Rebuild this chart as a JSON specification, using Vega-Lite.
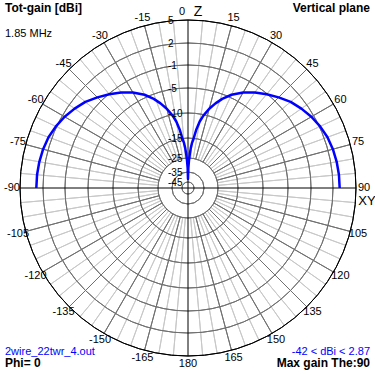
{
  "$schema": "https://vega.github.io/schema/vega-lite/v6.json",
  "width": 376,
  "height": 376,
  "padding": 0,
  "autosize": {"type": "none"},
  "background": "white",
  "config": {"view": {"stroke": null}, "text": {"font": "Liberation Sans", "fontSize": 11, "color": "black"}},
  "datasets": {
    "spokes": [
      {"angle": 0}, {"angle": 5}, {"angle": 10}, {"angle": 15}, {"angle": 20}, {"angle": 25}, {"angle": 30}, {"angle": 35}, {"angle": 40}, {"angle": 45}, {"angle": 50}, {"angle": 55},
      {"angle": 60}, {"angle": 65}, {"angle": 70}, {"angle": 75}, {"angle": 80}, {"angle": 85}, {"angle": 90}, {"angle": 95}, {"angle": 100}, {"angle": 105}, {"angle": 110}, {"angle": 115},
      {"angle": 120}, {"angle": 125}, {"angle": 130}, {"angle": 135}, {"angle": 140}, {"angle": 145}, {"angle": 150}, {"angle": 155}, {"angle": 160}, {"angle": 165}, {"angle": 170}, {"angle": 175},
      {"angle": 180}, {"angle": 185}, {"angle": 190}, {"angle": 195}, {"angle": 200}, {"angle": 205}, {"angle": 210}, {"angle": 215}, {"angle": 220}, {"angle": 225}, {"angle": 230}, {"angle": 235},
      {"angle": 240}, {"angle": 245}, {"angle": 250}, {"angle": 255}, {"angle": 260}, {"angle": 265}, {"angle": 270}, {"angle": 275}, {"angle": 280}, {"angle": 285}, {"angle": 290}, {"angle": 295},
      {"angle": 300}, {"angle": 305}, {"angle": 310}, {"angle": 315}, {"angle": 320}, {"angle": 325}, {"angle": 330}, {"angle": 335}, {"angle": 340}, {"angle": 345}, {"angle": 350}, {"angle": 355}
    ],
    "rings": [
      {"db": -45, "t": "-45"}, {"db": -35, "t": "-35"}, {"db": -25, "t": "-25"}, {"db": -15, "t": "-15"}, {"db": -10, "t": "-10"},
      {"db": -5, "t": "-5"}, {"db": -1, "t": "-1"}, {"db": 2, "t": "2"}, {"db": 5, "t": "5"}
    ],
    "alab": [
      {"a": -165, "t": "-165"}, {"a": -150, "t": "-150"}, {"a": -135, "t": "-135"}, {"a": -120, "t": "-120"}, {"a": -105, "t": "-105"},
      {"a": -90, "t": "-90"}, {"a": -75, "t": "-75"}, {"a": -60, "t": "-60"}, {"a": -45, "t": "-45"}, {"a": -30, "t": "-30"}, {"a": -15, "t": "-15"},
      {"a": 15, "t": "15"}, {"a": 30, "t": "30"}, {"a": 45, "t": "45"}, {"a": 60, "t": "60"}, {"a": 75, "t": "75"}, {"a": 90, "t": "90"},
      {"a": 105, "t": "105"}, {"a": 120, "t": "120"}, {"a": 135, "t": "135"}, {"a": 150, "t": "150"}, {"a": 165, "t": "165"}, {"a": 180, "t": "180"}
    ],
    "pattern": [
      {"angle": -90, "gain": 2.87}, {"angle": -85, "gain": 2.85}, {"angle": -80, "gain": 2.78}, {"angle": -75, "gain": 2.65}, {"angle": -70, "gain": 2.45},
      {"angle": -65, "gain": 2.1}, {"angle": -60, "gain": 1.65}, {"angle": -55, "gain": 1.1}, {"angle": -50, "gain": 0.5}, {"angle": -45, "gain": -0.3},
      {"angle": -40, "gain": -1.1}, {"angle": -35, "gain": -2.1}, {"angle": -30, "gain": -3.2}, {"angle": -25, "gain": -4.5}, {"angle": -21, "gain": -5.9},
      {"angle": -18, "gain": -7.2}, {"angle": -15, "gain": -8.6}, {"angle": -12, "gain": -10.2}, {"angle": -10, "gain": -11.5}, {"angle": -8, "gain": -13.3},
      {"angle": -6, "gain": -16}, {"angle": -5, "gain": -17.5}, {"angle": -4, "gain": -20}, {"angle": -3, "gain": -23}, {"angle": -2, "gain": -27},
      {"angle": -1, "gain": -32}, {"angle": 0, "gain": -42}, {"angle": 1, "gain": -32}, {"angle": 2, "gain": -27}, {"angle": 3, "gain": -23},
      {"angle": 4, "gain": -20}, {"angle": 5, "gain": -17.5}, {"angle": 6, "gain": -16}, {"angle": 8, "gain": -13.3}, {"angle": 10, "gain": -11.5},
      {"angle": 12, "gain": -10.2}, {"angle": 15, "gain": -8.6}, {"angle": 18, "gain": -7.2}, {"angle": 21, "gain": -5.9}, {"angle": 25, "gain": -4.5},
      {"angle": 30, "gain": -3.2}, {"angle": 35, "gain": -2.1}, {"angle": 40, "gain": -1.1}, {"angle": 45, "gain": -0.3}, {"angle": 50, "gain": 0.5},
      {"angle": 55, "gain": 1.1}, {"angle": 60, "gain": 1.65}, {"angle": 65, "gain": 2.1}, {"angle": 70, "gain": 2.45}, {"angle": 75, "gain": 2.65},
      {"angle": 80, "gain": 2.78}, {"angle": 85, "gain": 2.85}, {"angle": 90, "gain": 2.87}
    ]
  },
  "layer": [
    {
      "data": {"name": "spokes"},
      "transform": [{"filter": "datum.angle % 15 != 0"}],
      "mark": {"type": "arc", "filled": false, "stroke": "#c8c8c8", "strokeWidth": 1},
      "encoding": {
        "theta": {"field": "angle", "type": "quantitative", "stack": null, "scale": {"type": "linear", "domain": [0, 360], "range": [0, 6.283185307179586], "zero": false, "nice": false}},
        "theta2": {"field": "angle"},
        "radius": {"datum": 5, "type": "quantitative", "scale": {"type": "linear", "domain": [-45, -35, -25, -15, -10, -5, -1, 2, 5], "range": [6, 16, 30, 50, 75, 100, 123, 145, 168], "zero": false, "nice": false}},
        "radius2": {"datum": -25}
      }
    },
    {
      "data": {"name": "spokes"},
      "transform": [{"filter": "datum.angle % 15 == 0 && datum.angle % 90 != 0"}],
      "mark": {"type": "arc", "filled": false, "stroke": "#707070", "strokeWidth": 1},
      "encoding": {
        "theta": {"field": "angle", "type": "quantitative", "stack": null, "scale": {"type": "linear", "domain": [0, 360], "range": [0, 6.283185307179586], "zero": false, "nice": false}},
        "theta2": {"field": "angle"},
        "radius": {"datum": 5, "type": "quantitative", "scale": {"type": "linear", "domain": [-45, -35, -25, -15, -10, -5, -1, 2, 5], "range": [6, 16, 30, 50, 75, 100, 123, 145, 168], "zero": false, "nice": false}},
        "radius2": {"datum": -25}
      }
    },
    {
      "data": {"name": "rings"},
      "transform": [{"filter": "datum.db < 5"}],
      "mark": {"type": "arc", "filled": false, "stroke": "#707070", "strokeWidth": 1, "theta": 0, "theta2": 6.283185307179586},
      "encoding": {
        "radius": {"field": "db", "type": "quantitative", "scale": {"type": "linear", "domain": [-45, -35, -25, -15, -10, -5, -1, 2, 5], "range": [6, 16, 30, 50, 75, 100, 123, 145, 168], "zero": false, "nice": false}},
        "radius2": {"field": "db"}
      }
    },
    {
      "data": {"name": "rings"},
      "transform": [{"filter": "datum.db == 5"}],
      "mark": {"type": "arc", "filled": false, "stroke": "black", "strokeWidth": 1, "theta": 0, "theta2": 6.283185307179586},
      "encoding": {
        "radius": {"field": "db", "type": "quantitative", "scale": {"type": "linear", "domain": [-45, -35, -25, -15, -10, -5, -1, 2, 5], "range": [6, 16, 30, 50, 75, 100, 123, 145, 168], "zero": false, "nice": false}},
        "radius2": {"field": "db"}
      }
    },
    {
      "data": {"values": [{}]},
      "mark": {"type": "rule", "color": "black", "strokeWidth": 1},
      "encoding": {
        "x": {"datum": 0, "type": "quantitative", "scale": {"domain": [-188, 188], "nice": false, "zero": false}, "axis": null},
        "y": {"datum": -168, "type": "quantitative", "scale": {"domain": [-188, 188], "nice": false, "zero": false}, "axis": null},
        "y2": {"datum": 168}
      }
    },
    {
      "data": {"values": [{}]},
      "mark": {"type": "rule", "color": "black", "strokeWidth": 1},
      "encoding": {
        "y": {"datum": 0, "type": "quantitative", "scale": {"domain": [-188, 188], "nice": false, "zero": false}, "axis": null},
        "x": {"datum": -168, "type": "quantitative", "scale": {"domain": [-188, 188], "nice": false, "zero": false}, "axis": null},
        "x2": {"datum": 168}
      }
    },
    {
      "data": {"name": "pattern"},
      "transform": [
        {"calculate": "datum.gain <= -35 ? 6 + (datum.gain + 45) * 1.0 : datum.gain <= -25 ? 16 + (datum.gain + 35) * 1.4 : datum.gain <= -15 ? 30 + (datum.gain + 25) * 2 : datum.gain <= -10 ? 50 + (datum.gain + 15) * 5 : datum.gain <= -5 ? 75 + (datum.gain + 10) * 5 : datum.gain <= -1 ? 100 + (datum.gain + 5) * 5.75 : datum.gain <= 2 ? 123 + (datum.gain + 1) * 7.3333 : 145 + (datum.gain - 2) * 7.6667", "as": "r"},
        {"calculate": "datum.r * sin(datum.angle * PI / 180)", "as": "px"},
        {"calculate": "datum.r * cos(datum.angle * PI / 180)", "as": "py"}
      ],
      "mark": {"type": "line", "color": "#0000ff", "strokeWidth": 2.5, "strokeJoin": "round"},
      "encoding": {
        "x": {"field": "px", "type": "quantitative", "scale": {"domain": [-188, 188], "nice": false, "zero": false}, "axis": null},
        "y": {"field": "py", "type": "quantitative", "scale": {"domain": [-188, 188], "nice": false, "zero": false}, "axis": null},
        "order": {"field": "angle", "type": "quantitative"}
      }
    },
    {
      "data": {"name": "rings"},
      "mark": {"type": "text", "align": "left", "baseline": "middle", "dx": -20, "dy": 1, "fontSize": 10},
      "encoding": {
        "theta": {"datum": 0, "type": "quantitative", "scale": {"type": "linear", "domain": [0, 360], "range": [0, 6.283185307179586], "zero": false, "nice": false}},
        "radius": {"field": "db", "type": "quantitative", "scale": {"type": "linear", "domain": [-45, -35, -25, -15, -10, -5, -1, 2, 5], "range": [6, 16, 30, 50, 75, 100, 123, 145, 168], "zero": false, "nice": false}},
        "text": {"field": "t"}
      }
    },
    {
      "data": {"name": "alab"},
      "mark": {"type": "text", "align": "center", "baseline": "middle", "radiusOffset": 8},
      "encoding": {
        "theta": {"field": "a", "type": "quantitative", "stack": null, "scale": {"type": "linear", "domain": [0, 360], "range": [0, 6.283185307179586], "zero": false, "nice": false}},
        "radius": {"datum": 5, "type": "quantitative", "scale": {"type": "linear", "domain": [-45, -35, -25, -15, -10, -5, -1, 2, 5], "range": [6, 16, 30, 50, 75, 100, 123, 145, 168], "zero": false, "nice": false}},
        "text": {"field": "t"}
      }
    },
    {
      "data": {"values": [{"t": "0"}]},
      "mark": {"type": "text", "align": "center", "baseline": "middle", "radiusOffset": 8, "dx": -6},
      "encoding": {
        "theta": {"datum": 0, "type": "quantitative", "scale": {"type": "linear", "domain": [0, 360], "range": [0, 6.283185307179586], "zero": false, "nice": false}},
        "radius": {"datum": 5, "type": "quantitative", "scale": {"type": "linear", "domain": [-45, -35, -25, -15, -10, -5, -1, 2, 5], "range": [6, 16, 30, 50, 75, 100, 123, 145, 168], "zero": false, "nice": false}},
        "text": {"field": "t"}
      }
    },
    {
      "data": {"values": [{"t": "Z"}]},
      "mark": {"type": "text", "align": "center", "baseline": "middle", "radiusOffset": 8, "dx": 10, "fontSize": 14},
      "encoding": {
        "theta": {"datum": 0, "type": "quantitative", "scale": {"type": "linear", "domain": [0, 360], "range": [0, 6.283185307179586], "zero": false, "nice": false}},
        "radius": {"datum": 5, "type": "quantitative", "scale": {"type": "linear", "domain": [-45, -35, -25, -15, -10, -5, -1, 2, 5], "range": [6, 16, 30, 50, 75, 100, 123, 145, 168], "zero": false, "nice": false}},
        "text": {"field": "t"}
      }
    },
    {
      "data": {"values": [{"t": "XY"}]},
      "mark": {"type": "text", "align": "center", "baseline": "middle", "radiusOffset": 8, "dx": 3, "dy": 13, "fontSize": 13},
      "encoding": {
        "theta": {"datum": 90, "type": "quantitative", "scale": {"type": "linear", "domain": [0, 360], "range": [0, 6.283185307179586], "zero": false, "nice": false}},
        "radius": {"datum": 5, "type": "quantitative", "scale": {"type": "linear", "domain": [-45, -35, -25, -15, -10, -5, -1, 2, 5], "range": [6, 16, 30, 50, 75, 100, 123, 145, 168], "zero": false, "nice": false}},
        "text": {"field": "t"}
      }
    },
    {
      "data": {"values": [{"t": "Tot-gain [dBi]"}]},
      "mark": {"type": "text", "align": "left", "baseline": "top", "fontWeight": "bold", "fontSize": 12},
      "encoding": {"x": {"datum": -183}, "y": {"datum": 185}, "text": {"field": "t"}}
    },
    {
      "data": {"values": [{"t": "1.85 MHz"}]},
      "mark": {"type": "text", "align": "left", "baseline": "top", "fontSize": 11},
      "encoding": {"x": {"datum": -183}, "y": {"datum": 160}, "text": {"field": "t"}}
    },
    {
      "data": {"values": [{"t": "Vertical plane"}]},
      "mark": {"type": "text", "align": "right", "baseline": "top", "fontWeight": "bold", "fontSize": 12},
      "encoding": {"x": {"datum": 182}, "y": {"datum": 185}, "text": {"field": "t"}}
    },
    {
      "data": {"values": [{"t": "2wire_22twr_4.out"}]},
      "mark": {"type": "text", "align": "left", "baseline": "top", "fontSize": 11, "color": "#0000ff"},
      "encoding": {"x": {"datum": -183}, "y": {"datum": -158}, "text": {"field": "t"}}
    },
    {
      "data": {"values": [{"t": "Phi= 0"}]},
      "mark": {"type": "text", "align": "left", "baseline": "top", "fontWeight": "bold", "fontSize": 12},
      "encoding": {"x": {"datum": -183}, "y": {"datum": -170}, "text": {"field": "t"}}
    },
    {
      "data": {"values": [{"t": "-42 < dBi < 2.87"}]},
      "mark": {"type": "text", "align": "right", "baseline": "top", "fontSize": 11, "color": "#0000ff"},
      "encoding": {"x": {"datum": 182}, "y": {"datum": -158}, "text": {"field": "t"}}
    },
    {
      "data": {"values": [{"t": "Max gain The:90"}]},
      "mark": {"type": "text", "align": "right", "baseline": "top", "fontWeight": "bold", "fontSize": 12},
      "encoding": {"x": {"datum": 182}, "y": {"datum": -170}, "text": {"field": "t"}}
    }
  ]
}
